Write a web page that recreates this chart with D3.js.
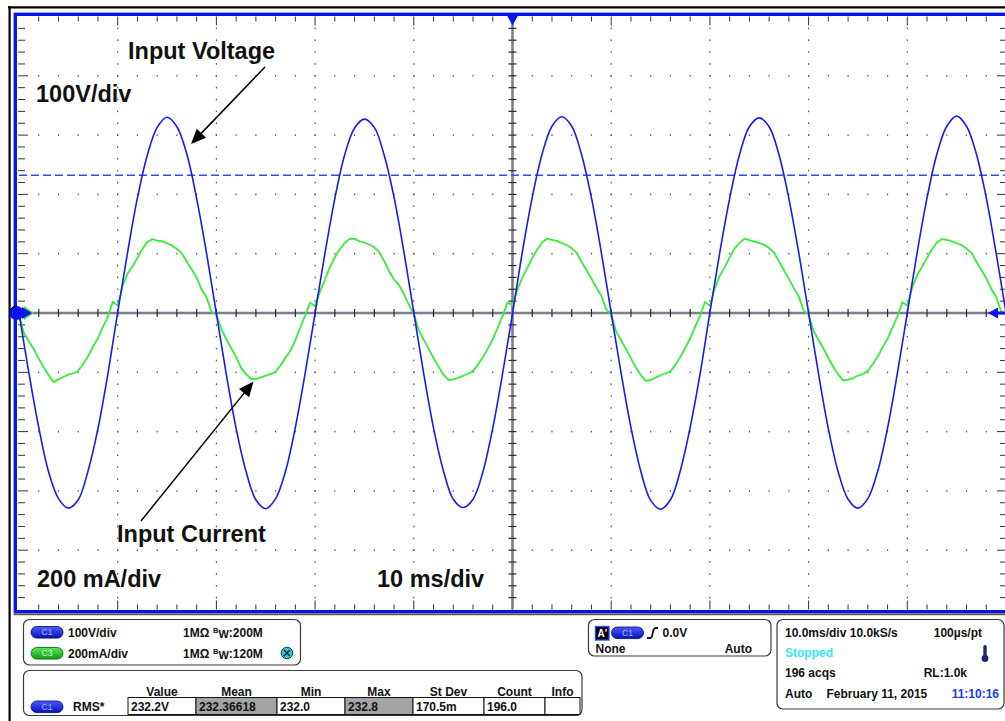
<!DOCTYPE html>
<html><head><meta charset="utf-8">
<script src="https://cdn.jsdelivr.net/npm/d3@7"></script>
<style>
html,body{margin:0;padding:0;background:#fff;overflow:hidden;}
svg{display:block;font-family:"Liberation Sans",Arial,Helvetica,sans-serif;}
</style></head><body>
<svg id="c" width="1005" height="721"></svg>
<script>
// ---------------- DATA ----------------
// time axis: 10 ms/div, 10 divisions, trigger at centre
const timeDomainMs = [-50, 50];
const voltStartMs = -50, voltStepMs = 1;      // voltage samples every 1 ms
const currStartMs = -50, currStepMs = 0.5;    // current samples every 0.5 ms
// Channel 1 : input voltage (V), 100 V/div
const voltage = [
  0, -101, -193, -268, -313, -329, -315, -266, -195, -103, 1, 102, 194, 266, 313, 330, 314, 268, 193, 101,
  -1, -103, -195, -267, -315, -330, -313, -267, -193, -101, 0, 101, 193, 267, 312, 327, 313, 266, 195, 103,
  1, -102, -194, -266, -314, -328, -314, -268, -194, -102, -1, 103, 195, 268, 315, 331, 315, 267, 194, 102,
  0, -101, -193, -267, -316, -331, -315, -266, -193, -103, 1, 102, 193, 267, 314, 329, 314, 267, 193, 102,
  0, -102, -195, -268, -314, -329, -313, -267, -194, -101, 0, 102, 194, 268, 315, 332, 315, 268, 194, 101,
  0
];
// Channel 3 : input current (mA), 200 mA/div
const current = [
  -6, -68, -95, -122, -154, -183, -210, -233, -224, -216, -208, -204, -195, -172, -146, -113, -85, -48, -13, 38,
  25, 91, 133, 157, 186, 216, 239, 249, 244, 242, 235, 228, 216, 202, 173, 147, 119, 79, 53, 4,
  -6, -54, -88, -118, -149, -185, -206, -222, -222, -217, -211, -206, -198, -176, -151, -127, -92, -49, -7, 35,
  23, 73, 112, 155, 188, 215, 236, 250, 250, 242, 237, 231, 221, 205, 175, 141, 113, 94, 64, 28,
  -2, -58, -90, -120, -152, -180, -208, -226, -224, -219, -212, -205, -196, -174, -149, -120, -88, -50, -10, 36,
  26, 80, 120, 152, 185, 214, 238, 251, 247, 243, 236, 229, 218, 203, 172, 145, 116, 86, 58, 12,
  -4, -62, -92, -121, -153, -184, -209, -229, -226, -218, -210, -204, -197, -175, -148, -118, -86, -47, -9, 37,
  24, 84, 126, 154, 187, 217, 237, 250, 246, 241, 236, 230, 219, 204, 174, 144, 115, 84, 56, 8,
  -5, -60, -91, -119, -151, -182, -207, -228, -225, -220, -211, -206, -195, -173, -147, -116, -87, -49, -11, 36,
  25, 86, 128, 156, 186, 215, 238, 249, 247, 242, 235, 229, 217, 203, 173, 146, 117, 82, 55, 6,
  -4
];
const voltsPerDiv = 100, milliampsPerDiv = 200, msPerDiv = 10;
const rmsVoltage = 232.2;
const annotations = ["Input Voltage", "100V/div", "Input Current", "200 mA/div", "10 ms/div"];
const channelLabels = ["C1", "C3"];
const channelScales = ["100V/div", "200mA/div"];
const channelImpedance = ["1MΩ", "1MΩ"];
const channelBandwidth = ["200M", "120M"];
const measHeaders = ["Value", "Mean", "Min", "Max", "St Dev", "Count", "Info"];
const measValues = ["232.2V", "232.36618", "232.0", "232.8", "170.5m", "196.0", ""];
const measShaded = [false, true, false, true, false, false, false];
const measName = "RMS*";
const triggerInfo = ["0.0V", "None", "Auto"];
const acqInfo = ["10.0ms/div 10.0kS/s", "100µs/pt", "Stopped", "196 acqs", "RL:1.0k", "Auto", "February 11, 2015", "11:10:16"];

// ---------------- LAYOUT ----------------
const svg = d3.select("#c");
const X0 = 19, X1 = 1006, Y0 = 16.5, Y1 = 609.5;
const x = d3.scaleLinear().domain(timeDomainMs).range([X0, X1]);
const yV = d3.scaleLinear().domain([-5 * voltsPerDiv, 5 * voltsPerDiv]).range([Y1, Y0]);
const yI = d3.scaleLinear().domain([-5 * milliampsPerDiv, 5 * milliampsPerDiv]).range([Y1, Y0]);

svg.append("rect").attr("width", 1005).attr("height", 721).attr("fill", "#fff");

// outer black frame
svg.append("line").attr("x1", 8).attr("x2", 1005).attr("y1", 7.3).attr("y2", 7.3).attr("stroke", "#000").attr("stroke-width", 2.2);
svg.append("line").attr("x1", 9.6).attr("x2", 9.6).attr("y1", 6.2).attr("y2", 721).attr("stroke", "#000").attr("stroke-width", 2.2);

const grid = svg.append("g");
const xMinor = d3.range(timeDomainMs[0], timeDomainMs[1] + 0.001, msPerDiv / 5);
const yMinor = d3.range(-5 * voltsPerDiv, 5 * voltsPerDiv + 0.001, voltsPerDiv / 5);
const isMajX = t => Math.abs(Math.round(t / msPerDiv) * msPerDiv - t) < 1e-6;
const isMajY = v => Math.abs(Math.round(v / voltsPerDiv) * voltsPerDiv - v) < 1e-6;
const xMajor = xMinor.filter(t => isMajX(t) && t !== 0 && Math.abs(t) !== 50);
const yMajor = yMinor.filter(v => isMajY(v) && v !== 0 && Math.abs(v) !== 500);

// dotted graticule
const dots = [];
xMajor.forEach(t => yMinor.forEach(v => { if (Math.abs(v) !== 500) dots.push([x(t), yV(v)]); }));
yMajor.forEach(v => xMinor.forEach(t => { if (Math.abs(t) !== 50) dots.push([x(t), yV(v)]); }));
grid.selectAll("rect.dot").data(dots).join("rect").attr("class", "dot")
  .attr("x", d => d[0] - 0.6).attr("y", d => d[1] - 0.8).attr("width", 1.2).attr("height", 1.6).attr("fill", "#555");

// edge ticks
const tk = grid.append("g").attr("stroke", "#333").attr("stroke-width", 1);
xMinor.filter(t => Math.abs(t) !== 50).forEach(t => {
  const L = isMajX(t) ? 9 : 5;
  tk.append("line").attr("x1", x(t)).attr("x2", x(t)).attr("y1", Y0).attr("y2", Y0 + L);
  tk.append("line").attr("x1", x(t)).attr("x2", x(t)).attr("y1", Y1).attr("y2", Y1 - L);
});
yMinor.filter(v => Math.abs(v) !== 500).forEach(v => {
  const L = isMajY(v) ? 9 : 6;
  tk.append("line").attr("x1", X0 - 1).attr("x2", X0 + L).attr("y1", yV(v)).attr("y2", yV(v));
  tk.append("line").attr("x1", X1).attr("x2", X1 - L).attr("y1", yV(v)).attr("y2", yV(v));
});

// centre lines
grid.append("line").attr("x1", X0).attr("x2", X1).attr("y1", yV(0)).attr("y2", yV(0)).attr("stroke", "#7e7e8c").attr("stroke-width", 2.6);
grid.append("line").attr("x1", x(0)).attr("x2", x(0)).attr("y1", Y0).attr("y2", Y1).attr("stroke", "#7e7e8c").attr("stroke-width", 2.6);
const ct = grid.append("g").attr("stroke", "#2a2a33").attr("stroke-width", 1.2);
xMinor.filter(t => Math.abs(t) !== 50 && t !== 0).forEach(t => ct.append("line").attr("x1", x(t)).attr("x2", x(t)).attr("y1", yV(0) - 4).attr("y2", yV(0) + 4));
yMinor.filter(v => Math.abs(v) !== 500 && v !== 0).forEach(v => ct.append("line").attr("x1", x(0) - 4).attr("x2", x(0) + 4).attr("y1", yV(v)).attr("y2", yV(v)));

// clip
svg.append("clipPath").attr("id", "plotclip").append("rect").attr("x", X0 - 2).attr("y", Y0).attr("width", X1 - X0 + 2).attr("height", Y1 - Y0);
const plot = svg.append("g").attr("clip-path", "url(#plotclip)");

// RMS cursor
plot.append("line").attr("x1", X0).attr("x2", X1).attr("y1", yV(rmsVoltage)).attr("y2", yV(rmsVoltage))
  .attr("stroke", "#2a4cff").attr("stroke-width", 1.6).attr("stroke-dasharray", "8,4");

// traces
const lineI = d3.line().x((d, i) => x(currStartMs + i * currStepMs)).y(d => yI(d));
const lineV = d3.line().x((d, i) => x(voltStartMs + i * voltStepMs)).y(d => yV(d)).curve(d3.curveCatmullRom);
plot.append("path").attr("d", lineI(current)).attr("fill", "none").attr("stroke", "#35ee35").attr("stroke-width", 1.8).attr("stroke-linejoin", "round");
plot.append("path").attr("d", lineV(voltage)).attr("fill", "none").attr("stroke", "#1a1aee").attr("stroke-width", 1.6).attr("stroke-linejoin", "round");

// blue border
svg.append("rect").attr("x", 15.3).attr("y", 14.3).attr("width", 1040).attr("height", 611.7 - 14.3)
  .attr("fill", "none").attr("stroke", "#0a14ee").attr("stroke-width", 3.4);
svg.append("line").attr("x1", 13.6).attr("x2", 1005).attr("y1", 614.4).attr("y2", 614.4).attr("stroke", "#6b5a30").attr("stroke-width", 1.8);

// markers
const yz = yV(0);
svg.append("path").attr("d", `M${x(0) - 5.5},15.5 L${x(0) + 5.5},15.5 L${x(0)},25.5 Z`).attr("fill", "#0a14ee");
svg.append("path").attr("d", `M24,${yz - 7} L34,${yz} L24,${yz + 7} Z`).attr("fill", "#35ee35");
svg.append("path").attr("d", `M22,${yz - 6} L32,${yz} L22,${yz + 6} Z`).attr("fill", "#0a14ee");
svg.append("circle").attr("cx", 16.5).attr("cy", yz).attr("r", 7).attr("fill", "#0a14ee");
svg.append("path").attr("d", `M${16.5 - 7},${yz} A7,7 0 0 1 ${16.5},${yz - 7}`).attr("fill", "none").attr("stroke", "#000").attr("stroke-width", 1);
svg.append("path").attr("d", `M988,${yz} L998,${yz - 5.5} L998,${yz + 5.5} Z`).attr("fill", "#0a14ee");
svg.append("line").attr("x1", 996).attr("x2", 1005).attr("y1", yz).attr("y2", yz).attr("stroke", "#0a14ee").attr("stroke-width", 3);

// annotations
const ann = svg.append("g").attr("font-weight", "bold").attr("font-size", "23.5px").attr("fill", "#111");
ann.append("text").attr("x", 128).attr("y", 58.5).text(annotations[0]);
ann.append("text").attr("x", 36).attr("y", 101.5).text(annotations[1]);
ann.append("text").attr("x", 117).attr("y", 542).text(annotations[2]);
ann.append("text").attr("x", 37).attr("y", 586.5).text(annotations[3]);
ann.append("text").attr("x", 377).attr("y", 586.5).text(annotations[4]);

function arrow(x1, y1, x2, y2) {
  const dx = x2 - x1, dy = y2 - y1, L = Math.hypot(dx, dy), ux = dx / L, uy = dy / L;
  const hl = 15, hw = 6.5, bx = x2 - ux * hl, by = y2 - uy * hl;
  svg.append("line").attr("x1", x1).attr("y1", y1).attr("x2", bx + ux * 2).attr("y2", by + uy * 2).attr("stroke", "#000").attr("stroke-width", 1.5);
  svg.append("path").attr("d", `M${x2},${y2} L${bx - uy * hw},${by + ux * hw} L${bx + uy * hw},${by - ux * hw} Z`).attr("fill", "#000");
}
arrow(265, 67, 191, 144);
arrow(141, 521, 253.5, 381.5);

// ---------------- bottom panels ----------------
const defs = svg.append("defs");
function grad(id, c1, c2) {
  const g = defs.append("linearGradient").attr("id", id).attr("x1", 0).attr("y1", 0).attr("x2", 0).attr("y2", 1);
  g.append("stop").attr("offset", "0%").attr("stop-color", c1);
  g.append("stop").attr("offset", "100%").attr("stop-color", c2);
}
grad("gBlue", "#4a5cff", "#0a10b8");
grad("gGreen", "#5be85b", "#119a11");
const panels = svg.append("g");
const fg = svg.append("g");   // icons and pills, above panels
const pf = svg.append("g").attr("font-weight", "bold").attr("font-size", "12px").attr("fill", "#111");
function pill(px, py, w, h, fillId, stroke, label, tcol) {
  fg.append("rect").attr("x", px).attr("y", py).attr("width", w).attr("height", h).attr("rx", h / 2)
    .attr("fill", `url(#${fillId})`).attr("stroke", stroke).attr("stroke-width", 0.8);
  fg.append("text").attr("x", px + w / 2).attr("y", py + h / 2 + 3).attr("text-anchor", "middle")
    .attr("font-size", "8.5px").attr("fill", tcol).text(label);
}
function panel(px, py, w, h) {
  panels.append("rect").attr("x", px).attr("y", py).attr("width", w).attr("height", h).attr("rx", 6)
    .attr("fill", "#fff").attr("stroke", "#3a3a3a").attr("stroke-width", 1.2);
}
// panel 1 : channels
panel(23.5, 619.5, 277, 45.5);
const rowsY = [636.5, 657.5];
channelLabels.forEach((c, i) => {
  const py = rowsY[i] - 10;
  pill(31, py, 32, 11.6, i === 0 ? "gBlue" : "gGreen", i === 0 ? "#000066" : "#0a5a0a", c, i === 0 ? "#a8b8ff" : "#c8ffc8");
  pf.append("text").attr("x", 68).attr("y", rowsY[i]).text(channelScales[i]);
  const t = pf.append("text").attr("x", 183).attr("y", rowsY[i]);
  t.append("tspan").text(channelImpedance[i]);
  t.append("tspan").attr("x", 213).attr("dy", -3.5).attr("font-size", "7.5px").text("B");
  t.append("tspan").attr("dy", 5).attr("font-size", "11px").text("W");
  t.append("tspan").attr("dy", -1.5).text(":" + channelBandwidth[i]);
});
fg.append("circle").attr("cx", 287).attr("cy", 653).attr("r", 5.8).attr("fill", "#2ec8da").attr("stroke", "#1a3a4a").attr("stroke-width", 1);
fg.append("path").attr("d", "M284,650 L290,656 M290,650 L284,656").attr("stroke", "#0a2a3a").attr("stroke-width", 1.5);

// panel 2 : measurements
panel(23.5, 670.5, 558.5, 45);
const colEdges = [128, 196, 277, 345, 413, 484, 545, 580];
measHeaders.forEach((h, i) => {
  const cx = (colEdges[i] + colEdges[i + 1]) / 2;
  pf.append("text").attr("x", cx).attr("y", 695.5).attr("text-anchor", "middle").text(h);
  fg.append("rect").attr("x", colEdges[i]).attr("y", 697.5).attr("width", colEdges[i + 1] - colEdges[i]).attr("height", 17)
    .attr("fill", measShaded[i] ? "#a4a4a4" : "#fff").attr("stroke", "#111").attr("stroke-width", 1);
  pf.append("text").attr("x", colEdges[i] + 3).attr("y", 710.5).text(measValues[i]);
});
pill(31, 701, 32, 11.6, "gBlue", "#000066", channelLabels[0], "#a8b8ff");
pf.append("text").attr("x", 73).attr("y", 710.5).text(measName);

// panel 3 : trigger
panel(588.5, 619.5, 182.5, 36.5);
fg.append("rect").attr("x", 595.5).attr("y", 626.5).attr("width", 13.5).attr("height", 13.5).attr("fill", "#000").attr("stroke", "#2a40ff").attr("stroke-width", 1.3);
fg.append("text").attr("x", 597.5).attr("y", 637).attr("font-size", "10px").attr("font-weight", "bold").attr("fill", "#fff").text("A'");
pill(611.5, 627, 32, 11.6, "gBlue", "#000066", channelLabels[0], "#a8b8ff");
fg.append("path").attr("d", "M647,638 L650.5,638 Q652,638 652.5,634 L653.5,630 Q654,628 656,628 L658,628").attr("fill", "none").attr("stroke", "#111").attr("stroke-width", 1.8);
pf.append("text").attr("x", 662.5).attr("y", 636.5).text(triggerInfo[0]);
pf.append("text").attr("x", 595.5).attr("y", 653).text(triggerInfo[1]);
pf.append("text").attr("x", 752).attr("y", 653).attr("text-anchor", "end").text(triggerInfo[2]);

// panel 4 : acquisition
panel(777, 619.5, 227, 89.5);
pf.append("text").attr("x", 785).attr("y", 637).text(acqInfo[0]);
pf.append("text").attr("x", 982).attr("y", 637).attr("text-anchor", "end").text(acqInfo[1]);
pf.append("text").attr("x", 785).attr("y", 657).attr("fill", "#33e6f6").text(acqInfo[2]);
pf.append("text").attr("x", 785).attr("y", 677).text(acqInfo[3]);
pf.append("text").attr("x", 967).attr("y", 677).attr("text-anchor", "end").text(acqInfo[4]);
pf.append("text").attr("x", 785).attr("y", 697.5).text(acqInfo[5]);
pf.append("text").attr("x", 826.5).attr("y", 697.5).text(acqInfo[6]);
pf.append("text").attr("x", 999).attr("y", 697.5).attr("text-anchor", "end").attr("fill", "#1c3cf0").text(acqInfo[7]);
fg.append("rect").attr("x", 983.3).attr("y", 645).attr("width", 3.4).attr("height", 12).attr("rx", 1.7).attr("fill", "#1a2470");
fg.append("circle").attr("cx", 985).attr("cy", 658.5).attr("r", 3.4).attr("fill", "#1a2470");
</script>
</body></html>
